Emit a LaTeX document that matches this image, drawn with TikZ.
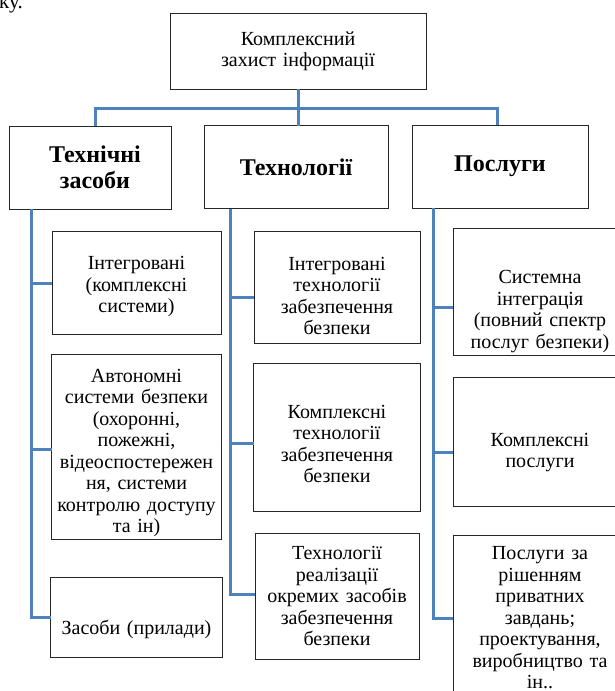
\documentclass[tikz,border=0pt]{standalone}
\usepackage{fontspec}
\setmainfont{Liberation Serif}
\usetikzlibrary{positioning}
\definecolor{railblue}{RGB}{79,129,189}

\begin{document}
\begin{tikzpicture}[
    x=1pt, y=-1pt,
    % Set distances between nodes
    node distance=20pt and 20pt,
    % Style for all framed boxes
    box/.style={
        rectangle,
        draw=black!85,
        line width=1pt,
        inner sep=0pt,
        outer sep=0pt,
        align=center,
        font=\fontsize{20}{21.5}\selectfont
    },
    % Style for the top box
    rootbox/.style={box, minimum width=256pt, minimum height=76pt,
        text width=240pt, font=\fontsize{20}{21}\selectfont},
    % Style for the three group boxes
    groupbox/.style={box, minimum height=83pt,
        font=\bfseries\fontsize{24}{26}\selectfont},
    % Style for the boxes under each group
    itembox/.style={box},
    % Style for the blue connecting lines
    rail/.style={draw=railblue, line width=3pt}
]
\useasboundingbox (0,0) rectangle (615,691);

% 0. Tail of the text line above the figure
\node[anchor=base west, inner sep=0pt, font=\fontsize{21}{24}\selectfont] (pagetail) at (-1,8) {ку.};

% 1. Top box and the three groups
\node[rootbox] (root) at (298,51) {Комплексний\\захист інформації};
\node[groupbox, minimum width=162pt, text width=150pt] (tz) at (90,167.5) {\hspace*{10pt}Технічні\\\hspace*{10pt}засоби};
\node[groupbox, minimum width=184pt, text width=176pt] (tech) at (296,167) {Технології};
\node[groupbox, minimum width=176pt, text width=168pt] (posl) at (500,166.5) {Послуги};

% 2. Boxes under "Технічні засоби"
\node[itembox, minimum width=169pt, minimum height=103pt, text width=164pt, text height=22pt] (b11) at (136.5,282.5)
    {Інтегровані\\(комплексні\\системи)};
\node[itembox, minimum width=170pt, minimum height=185pt, text width=166pt, text height=26pt, below=20pt of b11] (b12)
    {Автономні\\системи безпеки\\(охоронні,\\пожежні,\\відеоспостережен\\ня,  системи\\контролю доступу\\та ін)};
\node[itembox, minimum width=172pt, minimum height=80pt, text width=166pt, text height=39pt, below=38pt of b12] (b13)
    {Засоби (прилади)};

% 3. Boxes under "Технології"
\node[itembox, minimum width=166pt, minimum height=112pt, text width=160pt, text height=31pt] (b21) at (337,287)
    {Інтегровані\\технології\\забезпечення\\безпеки};
\node[itembox, minimum width=167pt, minimum height=148pt, text width=160pt, text height=27pt, below=20pt of b21] (b22)
    {Комплексні\\технології\\забезпечення\\безпеки};
\node[itembox, minimum width=164pt, minimum height=126pt, text width=160pt, below=22pt of b22] (b23)
    {Технології\\реалізації\\окремих засобів\\забезпечення\\безпеки};

% 4. Boxes under "Послуги"
\node[itembox, minimum width=174pt, minimum height=127pt, text width=168pt, text height=53pt] (b31) at (540,291.5)
    {Системна\\інтеграція\\(повний спектр\\послуг безпеки)};
\node[itembox, minimum width=174pt, minimum height=129pt, text width=168pt, text height=35pt, below=22pt of b31] (b32)
    {Комплексні\\послуги};
\node[itembox, minimum width=174pt, minimum height=166pt, text width=168pt, below=29pt of b32] (b33)
    {Послуги за\\рішенням\\приватних\\завдань;\\проектування,\\виробництво та\\ін..};

% 5. Blue connectors from the top box to the groups
\coordinate (bus) at ([yshift=-19pt]root.south);
\draw[rail] (root.south) -- (root.south |- tech.north);
\draw[rail] ([xshift=5pt]tz.north) |- (bus) -| ([xshift=-3pt]posl.north);

% 6. Blue rails down each group
\coordinate (railA) at ([xshift=22pt]tz.south west);
\coordinate (railB) at ([xshift=26pt]tech.south west);
\coordinate (railC) at ([xshift=21pt]posl.south west);

\draw[rail] (railA) |- (b13.west);
\foreach \b/\dy in {b11/-1, b12/-3}
    \draw[rail] ([yshift=\dy pt]\b.west) -| (railA);

\draw[rail] (railB) |- ([yshift=2pt]b23.west);
\foreach \b/\dy in {b21/-10, b22/-6}
    \draw[rail] ([yshift=\dy pt]\b.west) -| (railB);

\draw[rail] (railC) |- (b33.west);
\foreach \b/\dy in {b31/-16, b32/-11}
    \draw[rail] ([yshift=\dy pt]\b.west) -| (railC);

\end{tikzpicture}
\end{document}
